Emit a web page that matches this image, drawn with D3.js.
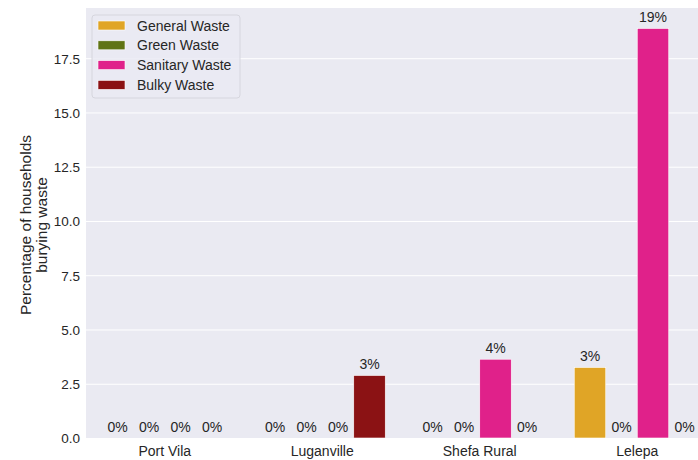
<!DOCTYPE html>
<html>
<head>
<meta charset="utf-8">
<script src="https://cdn.jsdelivr.net/npm/d3@7"></script>
<style>
  body { margin: 0; background: #fff; overflow: hidden; }
  svg { display: block; font-family: "Liberation Sans", Arial, sans-serif; }
</style>
</head>
<body>
<div id="chart"></div>
<script>
const regions = ["Port Vila", "Luganville", "Shefa Rural", "Lelepa"];
const wasteTypes = ["General Waste", "Green Waste", "Sanitary Waste", "Bulky Waste"];
const colors = ["#E0A526", "#607414", "#E0218A", "#8B1214"];
// percentage of households burying waste, per region, in wasteTypes order
const values = [
    [0, 0, 0, 0],
    [0, 0, 0, 2.88],
    [0, 0, 3.63, 0],
    [3.25, 0, 18.87, 0]
];
const yTicks = [0, 2.5, 5, 7.5, 10, 12.5, 15, 17.5];

const data = [];
regions.forEach((r, i) => {
    wasteTypes.forEach((t, j) => {
        data.push({ region: r, type: t, value: values[i][j] });
    });
});

const margin = { top: 8, right: 0, bottom: 22, left: 86 };
const fullW = 698, fullH = 460;
const width = 630;
const height = fullH - margin.top - margin.bottom;

const svg = d3.select("#chart")
    .append("svg")
    .attr("width", fullW)
    .attr("height", fullH)
    .append("g")
    .attr("transform", `translate(${margin.left},${margin.top})`);

const x = d3.scaleBand().domain(regions).range([0, width]);
const xSub = d3.scaleBand().domain(wasteTypes).range([x.bandwidth() * 0.1, x.bandwidth() * 0.9]);
const maxV = d3.max(data, d => d.value);
const y = d3.scaleLinear().domain([0, maxV * 1.05]).range([height, 0]);
const color = d3.scaleOrdinal().domain(wasteTypes).range(colors);

svg.append("rect")
    .attr("width", width)
    .attr("height", height)
    .attr("fill", "#EAEAF2");

svg.append("g")
    .attr("class", "grid")
    .call(d3.axisLeft(y).tickValues(yTicks).tickSize(-width).tickFormat(""))
    .call(g => g.select(".domain").remove())
    .selectAll("line")
    .style("stroke", "#fff")
    .style("stroke-width", 1);

const yAxis = svg.append("g")
    .call(d3.axisLeft(y).tickValues(yTicks).tickSize(0).tickPadding(6).tickFormat(d3.format(".1f")));
yAxis.select(".domain").remove();
yAxis.selectAll("text")
    .style("font-size", "13.5px")
    .style("fill", "#262626")
    .attr("dy", "0.36em");

const xAxis = svg.append("g")
    .attr("transform", `translate(0,${height})`)
    .call(d3.axisBottom(x).tickSize(0).tickPadding(8));
xAxis.select(".domain").remove();
xAxis.selectAll("text")
    .style("font-size", "14px")
    .style("fill", "#262626");

svg.append("text")
    .attr("transform", "rotate(-90)")
    .attr("y", -55)
    .attr("text-anchor", "middle")
    .style("font-size", "15.5px")
    .style("fill", "#262626")
    .selectAll("tspan")
    .data(["Percentage of households", "burying waste"])
    .enter()
    .append("tspan")
    .attr("x", -(225 - margin.top))
    .attr("dy", (d, i) => i === 0 ? 0 : 16)
    .text(d => d);

const groups = svg.selectAll(".region")
    .data(data)
    .enter();

groups.append("rect")
    .attr("x", d => x(d.region) + xSub(d.type))
    .attr("width", xSub.bandwidth())
    .attr("y", d => y(d.value))
    .attr("height", d => height - y(d.value))
    .attr("fill", d => color(d.type))
    .attr("stroke", "#fff")
    .attr("stroke-width", 0.6);

groups.append("text")
    .attr("x", d => x(d.region) + xSub(d.type) + xSub.bandwidth() / 2)
    .attr("y", d => y(d.value) - 6)
    .attr("text-anchor", "middle")
    .style("font-size", "14px")
    .style("fill", "#262626")
    .text(d => d3.format(".0f")(d.value) + "%");

// legend
const legend = svg.append("g").attr("transform", "translate(6,7)");
legend.append("rect")
    .attr("width", 148)
    .attr("height", 83)
    .attr("rx", 3)
    .attr("fill", "#EAEAF2")
    .attr("fill-opacity", 0.8)
    .attr("stroke", "#d6d6de")
    .attr("stroke-width", 1);

const items = legend.selectAll(".item")
    .data(wasteTypes)
    .enter()
    .append("g")
    .attr("transform", (d, i) => `translate(0,${10.5 + i * 19.8})`);

items.append("rect")
    .attr("x", 6)
    .attr("y", -4.5)
    .attr("width", 27)
    .attr("height", 9)
    .attr("fill", d => color(d))
    .attr("stroke", "#fff")
    .attr("stroke-width", 0.6);

items.append("text")
    .attr("x", 45)
    .attr("dy", "0.36em")
    .style("font-size", "14px")
    .style("fill", "#262626")
    .text(d => d);
</script>
</body>
</html>
